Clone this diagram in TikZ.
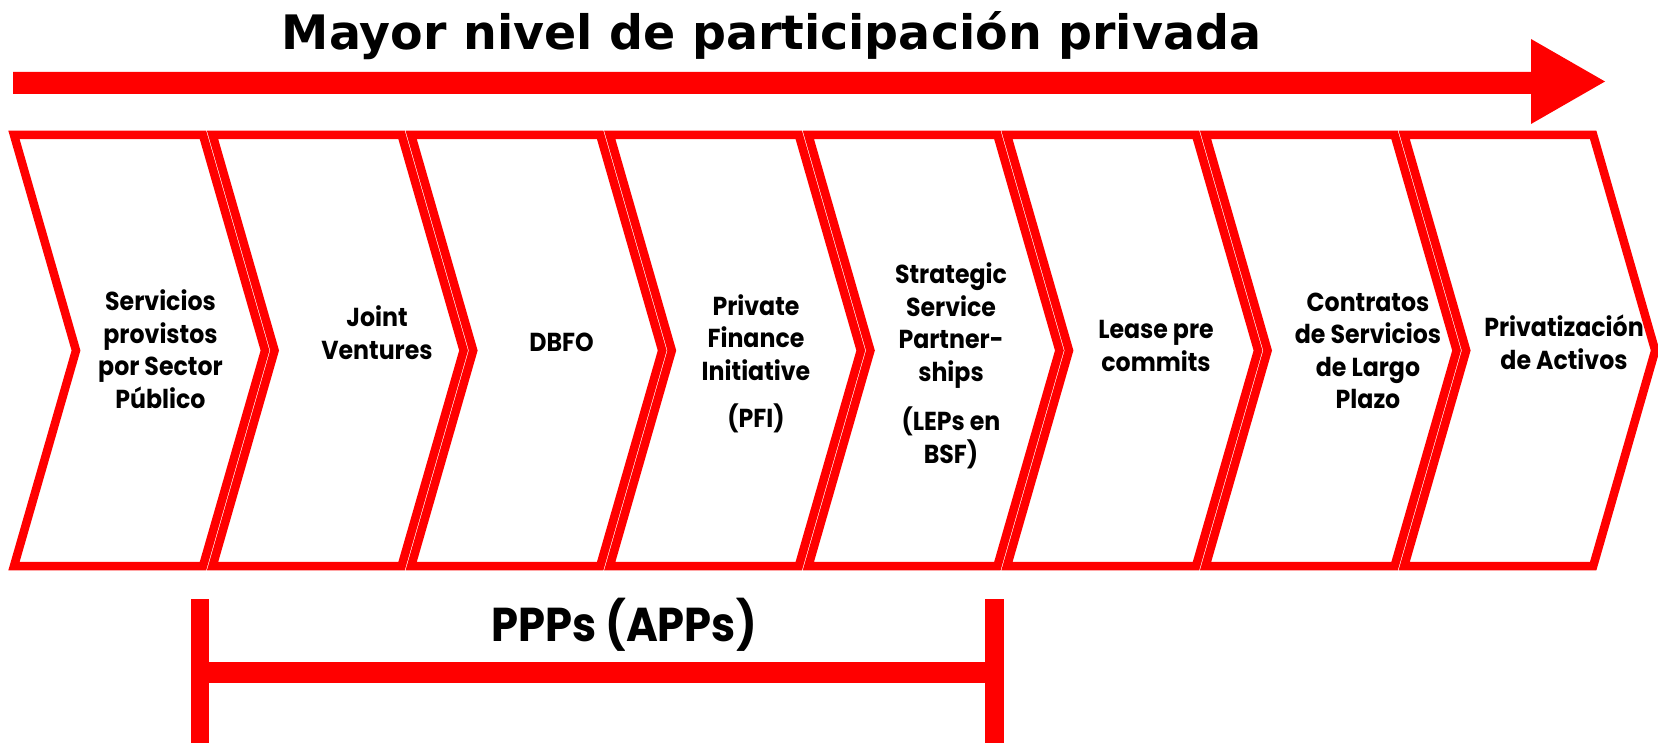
\documentclass[tikz,border=0pt]{standalone}
\usepackage{fontspec}
\newfontfamily\titlefont{DejaVu Sans}
\newfontfamily\gothic[FakeStretch=0.91]{Poppins}
\definecolor{pred}{RGB}{255,0,0}
\begin{document}
\begin{tikzpicture}[x=1pt,y=-1pt,
  chev/.style={draw=pred, fill=white, line width=8.5pt, line join=miter},
  lbl/.style={font=\gothic\bfseries\fontsize{26}{32.5}\selectfont, align=center, inner sep=0pt, anchor=north},
  vbar/.style={draw=pred, line width=18.5pt},
  hbar/.style={draw=pred, line width=21pt}]
\useasboundingbox (0,0) rectangle (1658,743);
% big arrow
\fill[pred] (13,72) -- (1531,72) -- (1531,39) -- (1605,81.5) -- (1531,124) -- (1531,94) -- (13,94) -- cycle;
\node[font=\titlefont\bfseries\fontsize{47.5}{56}\selectfont, anchor=base, inner sep=0pt] (title) at (771.5,50) {Mayor nivel de participación privada};
% chevrons
\foreach \i in {0,...,7} {
  \pgfmathsetmacro\L{14+198.6*\i}
  \draw[chev] (\L,135) -- ++(189,0) -- ++(62,215.5) -- ++(-62,215.5) -- ++(-189,0) -- ++(62,-215.5) -- cycle;
}
\node[lbl] (c1) at (160.5,280.7) {\rule{0pt}{30pt}Servicios\\provistos\\por Sector\\Público};
\node[lbl] (c2) at (377,296.7) {\rule{0pt}{30pt}Joint\\Ventures};
\node[lbl] (c3) at (561.5,321) {\rule{0pt}{30pt}DBFO};
\node[lbl] (c4) at (756,285) {\rule{0pt}{30pt}Private\\Finance\\Initiative\\[15pt](PFI)};
\node[lbl] (c5) at (951,253.3) {\rule{0pt}{30pt}Strategic\\Service\\Partner-\\ships\\[17pt](LEPs en\\BSF)};
\node[lbl] (c6) at (1156,308.3) {\rule{0pt}{30pt}Lease pre\\commits};
\node[lbl] (c7) at (1368,281) {\rule{0pt}{30pt}Contratos\\de Servicios\\de Largo\\Plazo};
\node[lbl] (c8) at (1564,306.7) {\rule{0pt}{30pt}Privatización\\de Activos};
% bracket
\coordinate (bl1) at (200,599);
\coordinate (bl2) at (200,743);
\coordinate (br1) at (994.5,599);
\coordinate (br2) at (994.5,743);
\coordinate (hl) at (200,672.5);
\coordinate (hr) at (994.5,672.5);
\draw[vbar] (bl1) -- (bl2);
\draw[vbar] (br1) -- (br2);
\draw[hbar] (hl) -- (hr);
\node[font=\gothic\bfseries\fontsize{47.5}{55}\selectfont, anchor=base, inner sep=0pt] (ppp) at (624,641) {PPPs (APPs)};
\end{tikzpicture}
\end{document}
